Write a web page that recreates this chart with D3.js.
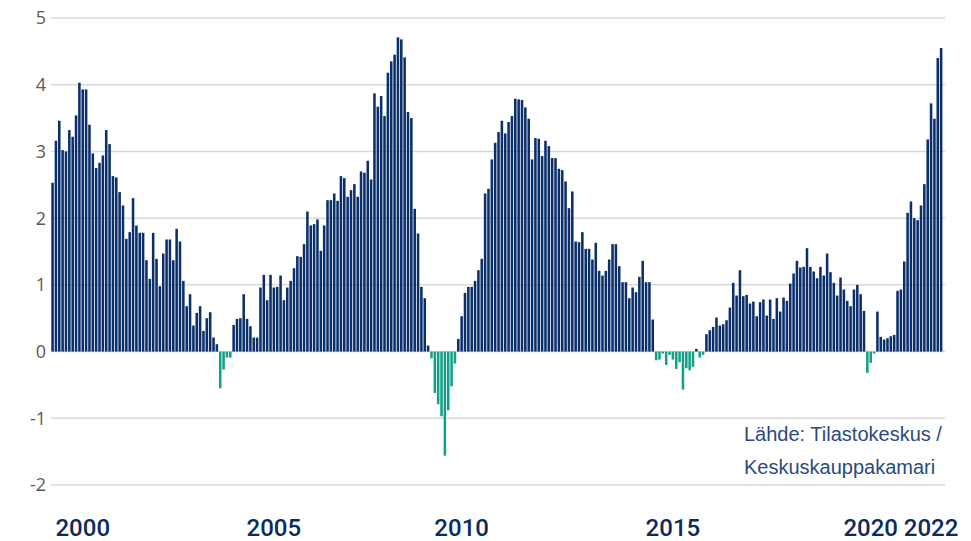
<!DOCTYPE html>
<html>
<head>
<meta charset="utf-8">
<script src="https://cdn.jsdelivr.net/npm/d3@7"></script>
<style>
  body { margin: 0; background: #fff; }
  svg { display: block; }
</style>
</head>
<body>
<svg id="viz" width="971" height="541"></svg>
<script>
// monthly change, % (Jan 2000 - Feb 2022)
var startYear = 2000;
var inflation = [
    2.53, 3.16, 3.46, 3.02, 3.00, 3.32, 3.22, 3.54, 4.03, 3.93, 3.93, 3.40, // 2000
    2.97, 2.75, 2.83, 2.94, 3.32, 3.11, 2.63, 2.61, 2.39, 2.19, 1.69, 1.79, // 2001
    2.30, 1.89, 1.78, 1.78, 1.37, 1.09, 1.78, 1.39, 0.98, 1.47, 1.68, 1.68, // 2002
    1.37, 1.84, 1.65, 1.06, 0.68, 0.86, 0.39, 0.58, 0.68, 0.31, 0.50, 0.59, // 2003
    0.21, 0.11, -0.55, -0.27, -0.09, -0.09, 0.40, 0.49, 0.50, 0.86, 0.49, 0.38, // 2004
    0.21, 0.21, 0.96, 1.15, 0.77, 1.15, 0.96, 0.97, 1.14, 0.77, 0.96, 1.06, // 2005
    1.25, 1.43, 1.42, 1.61, 2.10, 1.89, 1.91, 1.98, 1.51, 1.89, 2.27, 2.27, // 2006
    2.37, 2.26, 2.63, 2.60, 2.32, 2.42, 2.51, 2.32, 2.70, 2.68, 2.86, 2.58, // 2007
    3.87, 3.67, 3.83, 3.53, 4.18, 4.35, 4.45, 4.71, 4.68, 4.41, 3.59, 3.50, // 2008
    2.14, 1.77, 0.97, 0.80, 0.09, -0.10, -0.62, -0.79, -0.97, -1.56, -0.88, -0.52, // 2009
    -0.18, 0.19, 0.53, 0.88, 0.97, 0.97, 1.06, 1.22, 1.39, 2.37, 2.44, 2.88, // 2010
    3.13, 3.29, 3.46, 3.27, 3.44, 3.53, 3.79, 3.78, 3.77, 3.66, 3.49, 2.88, // 2011
    3.20, 3.19, 2.93, 3.16, 3.08, 2.90, 2.90, 2.74, 2.72, 2.55, 2.15, 2.40, // 2012
    1.65, 1.64, 1.79, 1.54, 1.54, 1.38, 1.63, 1.21, 1.14, 1.21, 1.38, 1.61, // 2013
    1.61, 1.28, 1.04, 1.04, 0.80, 0.96, 0.89, 1.12, 1.36, 1.04, 1.04, 0.48, // 2014
    -0.13, -0.12, -0.03, -0.20, -0.05, -0.12, -0.26, -0.16, -0.57, -0.25, -0.28, -0.23, // 2015
    0.04, -0.09, -0.05, 0.26, 0.32, 0.37, 0.51, 0.39, 0.41, 0.47, 0.66, 1.03, // 2016
    0.84, 1.22, 0.83, 0.85, 0.72, 0.75, 0.53, 0.74, 0.78, 0.54, 0.78, 0.49, // 2017
    0.80, 0.60, 0.81, 0.76, 1.02, 1.17, 1.36, 1.26, 1.27, 1.55, 1.27, 1.20, // 2018
    1.10, 1.27, 1.14, 1.47, 1.19, 1.03, 0.84, 1.11, 0.93, 0.76, 0.68, 0.93, // 2019
    1.00, 0.86, 0.61, -0.32, -0.17, -0.03, 0.60, 0.22, 0.18, 0.20, 0.23, 0.25, // 2020
    0.91, 0.93, 1.35, 2.08, 2.25, 2.00, 1.97, 2.19, 2.51, 3.18, 3.72, 3.49, // 2021
    4.40, 4.55 // 2022
];

var yTicks = [-2, -1, 0, 1, 2, 3, 4, 5];
var yearLabels = ["2000", "2005", "2010", "2015", "2020", "2022"];
var yearLabelMonth = [9, 66, 122, 185, 244, 262]; // month index under label centre
var sourceLines = ["Lähde: Tilastokeskus /", "Keskuskauppakamari"];

var COLORS = { pos: "#0b2f6a", neg: "#14a088", grid: "#d9d9d9", ytext: "#595959", xtext: "#0c2b5e", src: "#2b4a7e" };

window.addEventListener("load", run);

function run() {
    var svg = d3.select("#viz");

    var x = d3.scaleBand()
        .domain(d3.range(inflation.length))
        .range([51.3, 942.4])
        .paddingInner(0.24)
        .paddingOuter(0);

    var y = d3.scaleLinear().domain([-2, 5]).range([485, 18]);

    // grid
    svg.append("g").selectAll("line")
        .data(yTicks)
        .enter().append("line")
        .attr("x1", 51).attr("x2", 945)
        .attr("y1", function(d) { return y(d); })
        .attr("y2", function(d) { return y(d); })
        .attr("stroke", COLORS.grid)
        .attr("stroke-width", 1.5);

    // y labels
    svg.append("g").selectAll("text")
        .data(yTicks)
        .enter().append("text")
        .attr("x", 46)
        .attr("y", function(d) { return y(d); })
        .attr("dy", "0.36em")
        .attr("text-anchor", "end")
        .style("font-family", "'Open Sans', sans-serif")
        .style("font-size", "18px")
        .attr("fill", COLORS.ytext)
        .text(function(d) { return d; });

    // bars
    svg.append("g").selectAll("rect")
        .data(inflation)
        .enter().append("rect")
        .attr("x", function(d, i) { return x(i); })
        .attr("width", x.bandwidth())
        .attr("y", function(d) { return y(Math.max(0, d)); })
        .attr("height", function(d) { return Math.abs(y(d) - y(0)); })
        .attr("fill", function(d) { return d < 0 ? COLORS.neg : COLORS.pos; });

    // x labels
    svg.append("g").selectAll("text")
        .data(yearLabels)
        .enter().append("text")
        .attr("x", function(d, i) { return x(yearLabelMonth[i]) + x.bandwidth() / 2; })
        .attr("y", 536)
        .attr("text-anchor", "middle")
        .style("font-family", "Roboto, sans-serif")
        .style("font-weight", 500)
        .style("font-size", "24px")
        .attr("fill", COLORS.xtext)
        .text(function(d) { return d; });

    // source
    svg.append("g").selectAll("text")
        .data(sourceLines)
        .enter().append("text")
        .attr("x", 744)
        .attr("y", function(d, i) { return 441 + i * 33; })
        .style("font-family", "'Liberation Sans', Arial, sans-serif")
        .style("font-size", "20px")
        .attr("fill", COLORS.src)
        .text(function(d) { return d; });
}
</script>
</body>
</html>
